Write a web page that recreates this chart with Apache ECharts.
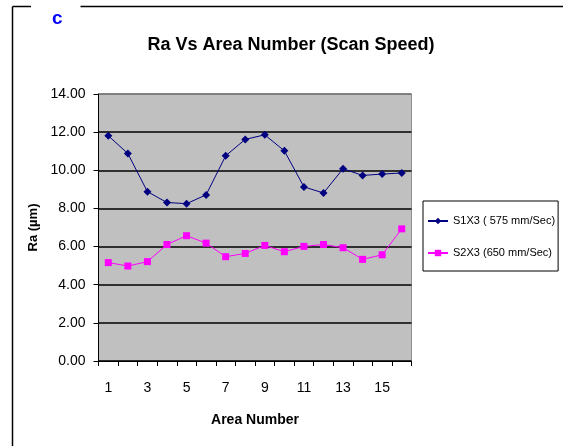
<!DOCTYPE html>
<html>
<head>
<meta charset="utf-8">
<script src="https://cdn.jsdelivr.net/npm/echarts@6/dist/echarts.min.js"></script>
<style>
  html, body { margin: 0; padding: 0; background: #fff; }
  #chart { width: 563px; height: 446px; }
</style>
</head>
<body>
<div id="chart"></div>
<script>
// Area numbers along the x axis
const areas = ['1','2','3','4','5','6','7','8','9','10','11','12','13','14','15','16'];
// Surface roughness Ra (µm) per area
const s1x3 = [11.81, 10.88, 8.88, 8.31, 8.25, 8.71, 10.76, 11.62, 11.86, 11.02, 9.13, 8.81, 10.08, 9.73, 9.80, 9.86];
const s2x3 = [5.16, 4.98, 5.21, 6.11, 6.57, 6.18, 5.47, 5.64, 6.06, 5.73, 6.01, 6.11, 5.94, 5.33, 5.57, 6.93];
const seriesNames = ['S1X3 ( 575 mm/Sec)', 'S2X3 (650 mm/Sec)'];
const yTicks = { min: 0, max: 14, step: 2 };

const chart = echarts.init(document.getElementById('chart'));
const font = 'Liberation Sans, Arial, sans-serif';

chart.setOption({
  animation: false,
  backgroundColor: '#ffffff',
  textStyle: { fontFamily: font },
  title: [
    {
      text: 'Ra Vs Area Number (Scan Speed)',
      left: 286, top: 31, textAlign: 'center',
      textStyle: { fontFamily: font, fontSize: 18, fontWeight: 'bold', color: '#000' }
    },
    {
      text: 'c',
      left: 47, top: 4,
      textStyle: { fontFamily: font, fontSize: 19, fontWeight: 'bold', color: '#0000ff' }
    }
  ],
  graphic: [
    { type: 'line', shape: { x1: 12.5, y1: 6.5, x2: 31, y2: 6.5 }, style: { stroke: '#000', lineWidth: 1.5 } },
    { type: 'line', shape: { x1: 80.5, y1: 6.5, x2: 563, y2: 6.5 }, style: { stroke: '#000', lineWidth: 1.5 } },
    { type: 'line', shape: { x1: 12.5, y1: 6.5, x2: 12.5, y2: 446 }, style: { stroke: '#000', lineWidth: 1.5 } }
  ],
  legend: {
    orient: 'vertical',
    left: 423, top: 201,
    padding: [13, 3, 11, 4],
    itemGap: 18,
    itemWidth: 20, itemHeight: 8,
    borderColor: '#000', borderWidth: 1, borderRadius: 0,
    backgroundColor: '#fff',
    textStyle: { fontFamily: font, fontSize: 11, color: '#000', lineHeight: 14 },
    data: seriesNames
  },
  grid: {
    left: 98.5, top: 94, width: 313, height: 267,
    show: true, backgroundColor: '#c0c0c0', borderColor: '#909090', borderWidth: 1
  },
  xAxis: {
    type: 'category',
    data: areas,
    boundaryGap: true,
    name: 'Area Number',
    nameLocation: 'middle',
    nameGap: 52,
    nameTextStyle: { fontFamily: font, fontSize: 14, fontWeight: 'bold', color: '#000' },
    axisLine: { lineStyle: { color: '#000', width: 1 } },
    axisTick: { show: true, interval: 0, length: 5, lineStyle: { color: '#000' } },
    axisLabel: { interval: 1, margin: 20, fontFamily: font, fontSize: 14, color: '#000' },
    splitLine: { show: false }
  },
  yAxis: {
    type: 'value',
    min: yTicks.min, max: yTicks.max, interval: yTicks.step,
    name: 'Ra (µm)',
    nameLocation: 'middle',
    nameRotate: 90,
    nameGap: 55,
    nameTextStyle: { fontFamily: font, fontSize: 13, fontWeight: 'bold', color: '#000' },
    axisLine: { show: true, lineStyle: { color: '#000', width: 1 } },
    axisTick: { show: true, length: 5, lineStyle: { color: '#000' } },
    axisLabel: { margin: 13, fontFamily: font, fontSize: 14, color: '#000',
                 formatter: v => v.toFixed(2) },
    splitLine: { show: true, lineStyle: { color: ['#000','#000','#000','#000','#000','#000','#000','#6e6e6e'], width: 1.5 } }
  },
  series: [
    {
      name: seriesNames[0], type: 'line', data: s1x3,
      symbol: 'diamond', symbolSize: 8,
      lineStyle: { color: '#000080', width: 1 },
      itemStyle: { color: '#000080' }
    },
    {
      name: seriesNames[1], type: 'line', data: s2x3,
      symbol: 'rect', symbolSize: 7,
      lineStyle: { color: '#ff00ff', width: 1 },
      itemStyle: { color: '#ff00ff' }
    }
  ]
});
</script>
</body>
</html>
